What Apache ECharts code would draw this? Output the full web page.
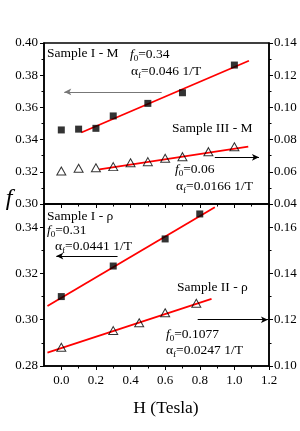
<!DOCTYPE html>
<html>
<head>
<meta charset="utf-8">
<script src="https://cdn.jsdelivr.net/npm/echarts@6/dist/echarts.min.js"></script>
<style>html,body{margin:0;padding:0;background:#fff}#c{width:300px;height:431px}</style>
</head>
<body>
<div id="c"></div>
<script>
// ---- data ----
const xMajorTicks = [0.0, 0.2, 0.4, 0.6, 0.8, 1.0, 1.2];
const xMinorTicks = [0.1, 0.3, 0.5, 0.7, 0.9, 1.1];

// Top panel: Sample I - M (squares, left axis)
const H_I_M = [0.0, 0.1, 0.2, 0.3, 0.5, 0.7, 1.0];
const f_I_M = [0.346, 0.3465, 0.347, 0.3547, 0.3625, 0.3691, 0.3863];
const fitH_I_M = [0.116, 1.084];
const fitF_I_M = [0.3444, 0.3890];

// Top panel: Sample III - M (triangles, right axis)
const H_III_M = [0.0, 0.1, 0.2, 0.3, 0.4, 0.5, 0.6, 0.7, 0.85, 1.0];
const f_III_M = [0.0605, 0.0622, 0.0625, 0.0632, 0.0656, 0.0663, 0.0684, 0.0694, 0.0725, 0.0756];
const fitH_III_M = [0.22, 1.08];
const fitF_III_M = [0.0615, 0.0757];

// Bottom panel: Sample I - rho (squares, left axis)
const H_I_R = [0.0, 0.3, 0.6, 0.8];
const f_I_R = [0.310, 0.3232, 0.3349, 0.3457];
const fitH_I_R = [-0.08, 0.887];
const fitF_I_R = [0.3059, 0.3486];

// Bottom panel: Sample II - rho (triangles, right axis)
const H_II_R = [0.0, 0.3, 0.45, 0.6, 0.78];
const f_II_R = [0.1081, 0.1153, 0.1187, 0.1230, 0.1271];
const fitH_II_R = [-0.08, 0.868];
const fitF_II_R = [0.1058, 0.1290];

// ---- chart ----
const FONT = '"Liberation Serif", "DejaVu Serif", serif';
const zip = (a, b) => a.map((v, i) => [v, b[i]]);

function xAxisMain(grid, labels) {
  return {
    type: 'value', gridIndex: grid, min: -0.1, max: 1.2, position: 'bottom',
    axisLine: { show: true, onZero: false, lineStyle: { color: '#000', width: 1.5 } },
    axisTick: { show: true, length: 4, customValues: xMajorTicks, lineStyle: { color: '#000', width: 1 } },
    axisLabel: { show: labels, customValues: xMajorTicks, margin: 8, color: '#000', fontFamily: FONT, fontSize: 13,
      formatter: v => v.toFixed(1) },
    splitLine: { show: false }
  };
}
function xAxisMinor(grid) {
  return {
    type: 'value', gridIndex: grid, min: -0.1, max: 1.2, position: 'bottom',
    axisLine: { show: false, onZero: false },
    axisTick: { show: true, length: 2.5, customValues: xMinorTicks, lineStyle: { color: '#000', width: 1 } },
    axisLabel: { show: false }, splitLine: { show: false }
  };
}
function yAxis(grid, pos, min, max, showMax) {
  return {
    type: 'value', gridIndex: grid, position: pos, min: min, max: max, interval: 0.02,
    axisLine: { show: true, onZero: false, lineStyle: { color: '#000', width: 1.5 } },
    axisTick: { show: true, length: 4, lineStyle: { color: '#000', width: 1 } },
    minorTick: { show: true, splitNumber: 2, length: 2.5, lineStyle: { color: '#000', width: 1 } },
    axisLabel: { margin: pos === 'left' ? 6 : 5, color: '#000', fontFamily: FONT, fontSize: 13,
      showMaxLabel: showMax, showMinLabel: true, formatter: v => v.toFixed(2) },
    splitLine: { show: false }
  };
}

function arrowLine(from, to, color) {
  return {
    silent: true, symbol: ['none', 'arrow'], symbolSize: [5, 7], precision: 4,
    label: { show: false },
    lineStyle: { color: color, width: 1, type: 'solid' },
    data: [[{ coord: from }, { coord: to }]]
  };
}

const sq = { symbol: 'rect', symbolSize: 7, itemStyle: { color: '#000' } };
const tri = { symbol: 'triangle', symbolSize: [9, 8], itemStyle: { color: 'rgba(0,0,0,0)', borderColor: '#000', borderWidth: 1 } };
const fit = { type: 'line', symbol: 'none', silent: true, lineStyle: { color: '#ff0000', width: 1.8 }, z: 1 };

const series = [
  Object.assign({}, fit, { xAxisIndex: 0, yAxisIndex: 0, data: zip(fitH_I_M, fitF_I_M) }),
  Object.assign({}, fit, { xAxisIndex: 0, yAxisIndex: 1, data: zip(fitH_III_M, fitF_III_M) }),
  Object.assign({}, fit, { xAxisIndex: 2, yAxisIndex: 2, data: zip(fitH_I_R, fitF_I_R) }),
  Object.assign({}, fit, { xAxisIndex: 2, yAxisIndex: 3, data: zip(fitH_II_R, fitF_II_R) }),
  Object.assign({ type: 'scatter', xAxisIndex: 0, yAxisIndex: 0, data: zip(H_I_M, f_I_M), z: 3,
    markLine: arrowLine([0.58, 0.3696], [0.017, 0.3696], '#777') }, sq),
  Object.assign({ type: 'scatter', xAxisIndex: 0, yAxisIndex: 1, data: zip(H_III_M, f_III_M), z: 3,
    markLine: arrowLine([0.887, 0.069], [1.142, 0.069], '#000') }, tri),
  Object.assign({ type: 'scatter', xAxisIndex: 2, yAxisIndex: 2, data: zip(H_I_R, f_I_R), z: 3,
    markLine: arrowLine([0.325, 0.3275], [-0.029, 0.3275], '#000') }, sq),
  Object.assign({ type: 'scatter', xAxisIndex: 2, yAxisIndex: 3, data: zip(H_II_R, f_II_R), z: 3,
    markLine: arrowLine([0.788, 0.12], [1.194, 0.12], '#000') }, tri)
];

const baseRich = {
  n: { fontFamily: FONT, fontSize: 13.5, lineHeight: 18, fill: '#000', verticalAlign: 'middle' },
  i: { fontFamily: FONT, fontSize: 13.5, fontStyle: 'italic', lineHeight: 18, fill: '#000', verticalAlign: 'middle' },
  s: { fontFamily: FONT, fontSize: 9, lineHeight: 9, fill: '#000', verticalAlign: 'bottom' }
};
function txt(x, y, text, extra) {
  return Object.assign({
    type: 'text', x: x, y: y, silent: true,
    style: { text: text, rich: baseRich, fontFamily: FONT, fontSize: 13.5, fill: '#000', align: 'left', verticalAlign: 'middle' }
  }, extra || {});
}

const graphics = [
  txt(47, 53, '{n|Sample I - M}'),
  txt(130, 54, '{i|f}{s|0}{n|=0.34}'),
  txt(131, 71, '{n|α}{s|f}{n|=0.046 1/T}'),
  txt(172, 128, '{n|Sample III - M}'),
  txt(175, 169, '{i|f}{s|0}{n|=0.06}'),
  txt(176, 186, '{n|α}{s|f}{n|=0.0166 1/T}'),
  txt(47, 216, '{n|Sample I - ρ}'),
  txt(47, 230, '{i|f}{s|0}{n|=0.31}'),
  txt(55, 246, '{n|α}{s|f}{n|=0.0441 1/T}'),
  txt(177, 287, '{n|Sample II - ρ}'),
  txt(166, 334, '{i|f}{s|0}{n|=0.1077}'),
  txt(166, 350, '{n|α}{s|f}{n|=0.0247 1/T}'),
  { type: 'text', x: 9, y: 199, silent: true,
    style: { text: 'f', fontFamily: FONT, fontStyle: 'italic', fontSize: 24, fill: '#000', align: 'center', verticalAlign: 'middle' } },
  { type: 'text', x: 166, y: 408, silent: true,
    style: { text: 'H (Tesla)', fontFamily: FONT, fontSize: 17.5, fill: '#000', align: 'center', verticalAlign: 'middle' } }
];

const chart = echarts.init(document.getElementById('c'), null, { renderer: 'canvas' });
chart.setOption({
  animation: false,
  backgroundColor: '#fff',
  grid: [
    { left: 44, top: 43, width: 225, height: 161, show: true, borderColor: '#000', borderWidth: 1.5, backgroundColor: 'transparent' },
    { left: 44, top: 204, width: 225, height: 162, show: true, borderColor: '#000', borderWidth: 1.5, backgroundColor: 'transparent' }
  ],
  xAxis: [xAxisMain(0, false), xAxisMinor(0), xAxisMain(1, true), xAxisMinor(1)],
  yAxis: [
    yAxis(0, 'left', 0.30, 0.40, true),
    yAxis(0, 'right', 0.04, 0.14, true),
    yAxis(1, 'left', 0.28, 0.35, false),
    yAxis(1, 'right', 0.10, 0.17, false)
  ],
  series: series,
  graphic: graphics
});
</script>
</body>
</html>
